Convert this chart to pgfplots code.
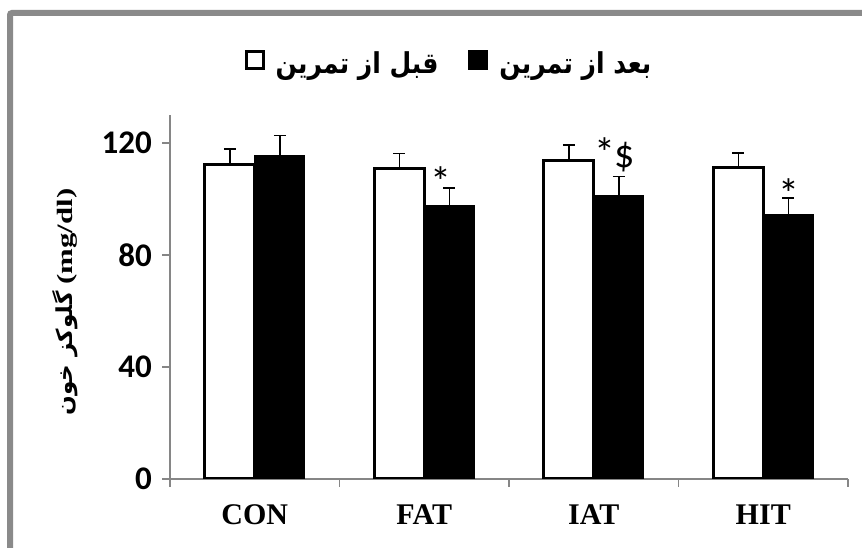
\documentclass[border=0pt]{standalone}
\usepackage{pgfplots}
\pgfplotsset{compat=1.18}
\usepackage{fontspec}
\setmainfont{Liberation Serif}
\newfontfamily\carlito{Carlito}
\newfontfamily\arabicfont[Script=Arabic]{DejaVu Sans}
\TeXXeTstate=1
\definecolor{axgray}{HTML}{868686}
\definecolor{framegray}{HTML}{8A8A8A}
\begin{document}
\begin{tikzpicture}[x=1pt,y=1pt]
\useasboundingbox (0,0) rectangle (862,548);
\draw[framegray, line width=6pt, rounded corners=2pt] (10,-20) -- (10,535) -- (900,535);
\begin{axis}[
  at={(170pt,69pt)}, anchor=south west,
  width=678pt, height=364pt, scale only axis,
  ybar=0pt, bar width=50pt,
  xmin=-0.5, xmax=3.5, ymin=0, ymax=130,
  xtick={0,1,2,3}, xticklabels={CON,FAT,IAT,HIT},
  minor xtick={-0.5,0.5,1.5,2.5,3.5},
  ytick={0,40,80,120},
  axis x line*=bottom, axis y line*=left,
  axis line style={axgray, line width=1.5pt, -},
  tick style={axgray, line width=1.5pt},
  major x tick style={draw=none},
  tick align=outside,
  major tick length=8pt, minor tick length=8pt,
  /pgf/number format/assume math mode=true,
  xticklabel style={font=\bfseries\fontsize{30}{30}\selectfont, inner sep=0pt, text height=20pt, text depth=0pt, anchor=north, yshift=-17pt},
  yticklabel style={font=\carlito\bfseries\fontsize{33}{33}\selectfont, inner sep=0pt, anchor=east, xshift=-10pt},
  ylabel={\scalebox{1.05}[1]{\arabicfont\bfseries\fontsize{22}{22}\selectfont\beginR گلوکز خون\endR}\hspace{7pt}\scalebox{1.4}[1]{\bfseries\fontsize{22}{22}\selectfont(mg/dl)}},
  ylabel style={at={(axis description cs:-0.155,0.486)}, anchor=center, inner sep=0pt},
  legend columns=2,
  legend style={draw=none, fill=none, at={(0.4115,1.143)}, anchor=center,
    /tikz/every even column/.append style={column sep=28pt}},
  legend image code/.code={\draw[#1, line width=3pt] (1.5pt,-6pt) rectangle (18.5pt,11pt);},
]
\addplot[fill=white, draw=black, line width=3pt,
  error bars/.cd, y dir=plus, y explicit,
  error bar style={line width=1.5pt, black},
  error mark options={rotate=90, mark size=6pt, line width=1.5pt, black}]
  coordinates {(0,112.4) +- (0,5.4) (1,111.0) +- (0,5.3) (2,113.9) +- (0,5.4) (3,111.2) +- (0,5.2)};
\addlegendentry{\rule{9pt}{0pt}\scalebox{1}[1.15]{\arabicfont\bfseries\fontsize{25}{25}\selectfont\beginR قبل از تمرین\endR}}
\addplot[fill=black, draw=black, line width=1pt,
  error bars/.cd, y dir=plus, y explicit,
  error bar style={line width=1.5pt, black},
  error mark options={rotate=90, mark size=6pt, line width=1.5pt, black}]
  coordinates {(0,115.4) +- (0,7.3) (1,97.8) +- (0,6.2) (2,101.4) +- (0,6.7) (3,94.3) +- (0,6.0)};
\addlegendentry{\rule{9pt}{0pt}\scalebox{1}[1.15]{\arabicfont\bfseries\fontsize{25}{25}\selectfont\beginR بعد از تمرین\endR}}
\node[font=\carlito\fontsize{42}{42}\selectfont, anchor=north, inner sep=0pt] at (axis cs:1.10,111.5) {*};
\node[font=\carlito\fontsize{40}{40}\selectfont, anchor=north, inner sep=0pt] at (axis cs:2.125,122.0) {{\fontsize{42}{42}\selectfont*}\kern-1pt\$};
\node[font=\carlito\fontsize{42}{42}\selectfont, anchor=north, inner sep=0pt] at (axis cs:3.152,107.5) {*};
\end{axis}
\end{tikzpicture}
\end{document}
